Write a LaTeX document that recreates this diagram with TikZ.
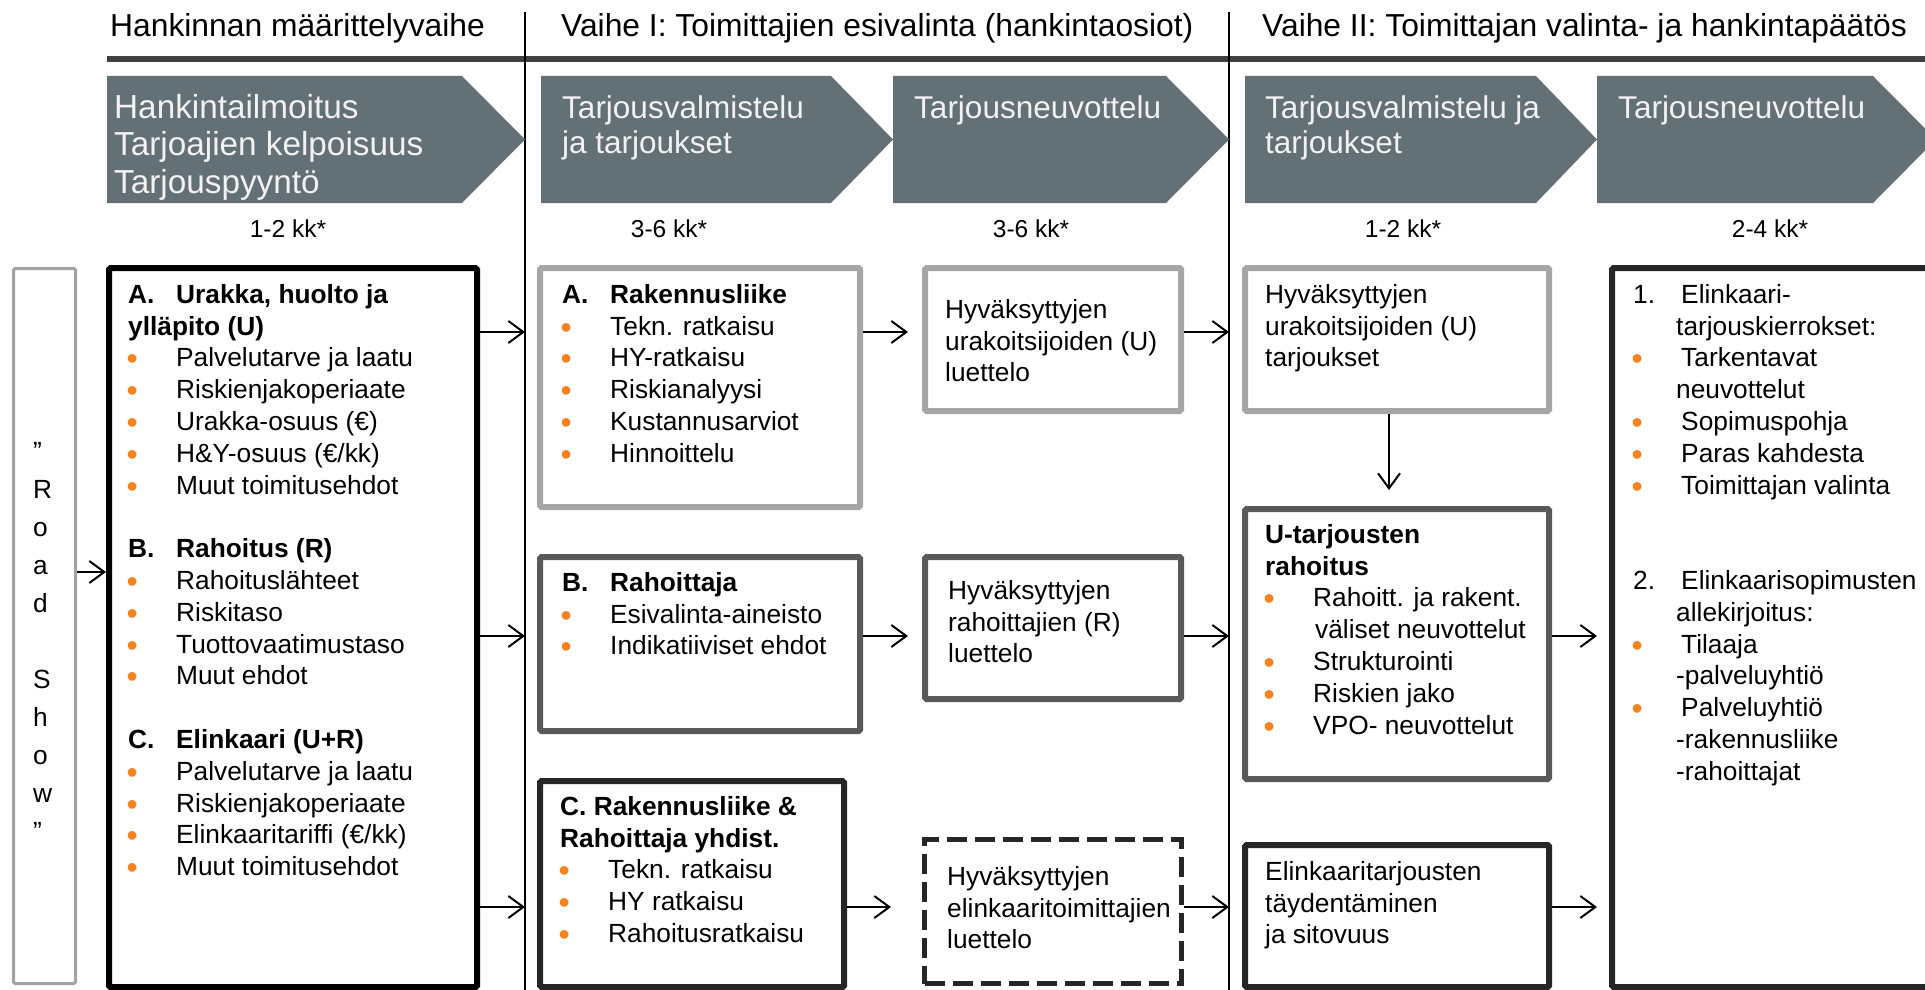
\documentclass[tikz,border=0pt]{standalone}
\usepackage{fontspec}
\setmainfont{Liberation Sans}
\usetikzlibrary{arrows.meta}
\definecolor{chev}{HTML}{637075}
\definecolor{chevtext}{HTML}{F2F2F2}
\definecolor{orng}{HTML}{F5821F}
\definecolor{lgray}{HTML}{A6A6A6}
\definecolor{dgray}{HTML}{595959}
\definecolor{nblack}{HTML}{262626}
\definecolor{rsgray}{HTML}{A3A3A3}
\definecolor{hline}{HTML}{404040}
\newcommand{\fsz}[2]{\fontsize{#1pt}{#2pt}\selectfont}
\newcommand{\bul}{\makebox[48pt][l]{\hspace{-1.5pt}\textcolor{orng}{\fontsize{32pt}{32pt}\selectfont\raisebox{-3pt}{•}}}}
\newcommand{\lbl}[1]{\makebox[48pt][l]{#1}}
\newcommand{\ft}{\rule{0pt}{24pt}}
\newcommand{\ct}{\rule{0pt}{26pt}}
\begin{document}
\begin{tikzpicture}[x=1pt,y=-1pt,
  hdr/.style={anchor=base west, inner sep=0pt, font=\fsz{31.8}{38}},
  chevtxt/.style={anchor=north west, inner sep=0pt, align=left, text=chevtext, font=\fsz{31.5}{35.5}},
  kklbl/.style={anchor=base, inner sep=0pt, font=\fsz{24.5}{29}},
  body/.style={anchor=north west, inner sep=0pt, align=left, font=\fsz{26.3}{31.8}},
  frame/.style={draw=#1, anchor=north west, inner sep=0pt, line width=6pt, rounded corners=1.5pt},
  arr/.style={line width=2pt, -{Straight Barb[length=15pt,width=22pt]}},
]
\useasboundingbox (0,0) rectangle (1925,990);
\fill[white] (0,0) rectangle (1925,990);
\begin{scope}
\clip (0,0) rectangle (1925,990);

% header texts
\node[hdr] (h1) at (110,37) {Hankinnan määrittelyvaihe};
\node[hdr] (h2) at (561,37) {Vaihe I: Toimittajien esivalinta (hankintaosiot)};
\node[hdr] (h3) at (1262,37) {Vaihe II: Toimittajan valinta- ja hankintapäätös};

% thick header line and dividers
\coordinate (hl1) at (107,59);
\coordinate (hl2) at (1925,59);
\draw[hline, line width=5.5pt] (hl1) -- (hl2);
\coordinate (d1t) at (525,12);
\coordinate (d1b) at (525,990);
\coordinate (d2t) at (1229,12);
\coordinate (d2b) at (1229,990);
\draw[line width=2pt] (d1t) -- (d1b);
\draw[line width=2pt] (d2t) -- (d2b);
\coordinate (d1) at (525,0);
\coordinate (d2) at (1229,0);

% chevrons
\fill[chev] (107,76) -- (462,76) -- (525,139.5) -- (462,203) -- (107,203) -- cycle;
\fill[chev] (541,76) -- (831,76) -- (893,139.5) -- (831,203) -- (541,203) -- cycle;
\fill[chev] (893,76) -- (1166,76) -- (1229,139.5) -- (1166,203) -- (893,203) -- cycle;
\fill[chev] (1245,76) -- (1536,76) -- (1597,139.5) -- (1536,203) -- (1245,203) -- cycle;
\fill[chev] (1597,76) -- (1873,76) -- (1936,139.5) -- (1873,203) -- (1597,203) -- cycle;

\node[chevtxt, font=\fsz{33.3}{37.4}] (c1txt) at (114,92) {\ct Hankintailmoitus\\Tarjoajien kelpoisuus\\Tarjouspyyntö};
\node[chevtxt] (c2txt) at (562,92) {\ct Tarjousvalmistelu\\ja tarjoukset};
\node[chevtxt] (c3txt) at (914,92) {\ct Tarjousneuvottelu};
\node[chevtxt] (c4txt) at (1265,92) {\ct Tarjousvalmistelu ja\\tarjoukset};
\node[chevtxt] (c5txt) at (1618,92) {\ct Tarjousneuvottelu};

% durations
\node[kklbl] (kk1) at (288,237) {1-2 kk*};
\node[kklbl] (kk2) at (669,237) {3-6 kk*};
\node[kklbl] (kk3) at (1031,237) {3-6 kk*};
\node[kklbl] (kk4) at (1403,237) {1-2 kk*};
\node[kklbl] (kk5) at (1770,237) {2-4 kk*};

% boxes
\node[frame=rsgray, line width=3pt, minimum width=62pt, minimum height=715pt] (roadshow) at (12,267) {};
\node[frame=black, minimum width=368pt, minimum height=719pt] (bigbox) at (106,265) {};
\node[frame=lgray, minimum width=320pt, minimum height=239pt] (rakA) at (537,265) {};
\node[frame=dgray, minimum width=320pt, minimum height=174pt] (rakB) at (537,554) {};
\node[frame=nblack, minimum width=304pt, minimum height=206pt] (rakC) at (537,778) {};
\node[frame=lgray, minimum width=256pt, minimum height=143pt] (luetU) at (922,265) {};
\node[frame=dgray, minimum width=256pt, minimum height=142pt] (luetR) at (922,554) {};
\node[frame=nblack, line width=5pt, dash pattern=on 20pt off 8pt, rounded corners=0pt, minimum width=257pt, minimum height=144pt] (luetE) at (922,837) {};
\node[frame=lgray, minimum width=304pt, minimum height=143pt] (tarjU) at (1242,265) {};
\node[frame=dgray, minimum width=304pt, minimum height=270pt] (rahU) at (1242,506) {};
\node[frame=nblack, minimum width=304pt, minimum height=142pt] (elinT) at (1242,842) {};
\node[frame=nblack, minimum width=345pt, minimum height=719pt] (final) at (1609,265) {};

% texts
\node[body, font=\fsz{26.3}{38}] (rstxt) at (33,436) {\ft ”\\R\\o\\a\\d\\[38pt]S\\h\\o\\w\\”};

\node[body] (bigtxt) at (128,279) {\ft\lbl{\textbf{A.}}\textbf{Urakka, huolto ja}\\
\textbf{ylläpito (U)}\\
\bul Palvelutarve ja laatu\\
\bul Riskienjakoperiaate\\
\bul Urakka-osuus (€)\\
\bul H\&Y-osuus (€/kk)\\
\bul Muut toimitusehdot\\[31.8pt]
\lbl{\textbf{B.}}\textbf{Rahoitus (R)}\\
\bul Rahoituslähteet\\
\bul Riskitaso\\
\bul Tuottovaatimustaso\\
\bul Muut ehdot\\[31.8pt]
\lbl{\textbf{C.}}\textbf{Elinkaari (U+R)}\\
\bul Palvelutarve ja laatu\\
\bul Riskienjakoperiaate\\
\bul Elinkaaritariffi (€/kk)\\
\bul Muut toimitusehdot};

\node[body] (rakAtxt) at (562,279) {\ft\lbl{\textbf{A.}}\textbf{Rakennusliike}\\
\bul Tekn. ratkaisu\\
\bul HY-ratkaisu\\
\bul Riskianalyysi\\
\bul Kustannusarviot\\
\bul Hinnoittelu};

\node[body] (rakBtxt) at (562,567) {\ft\lbl{\textbf{B.}}\textbf{Rahoittaja}\\
\bul Esivalinta-aineisto\\
\bul Indikatiiviset ehdot};

\node[body] (rakCtxt) at (560,791) {\ft\textbf{C. Rakennusliike \&}\\
\textbf{Rahoittaja yhdist.}\\
\bul Tekn. ratkaisu\\
\bul HY ratkaisu\\
\bul Rahoitusratkaisu};

\node[body] (luetUtxt) at (945,294) {\ft Hyväksyttyjen\\urakoitsijoiden (U)\\luettelo};
\node[body] (luetRtxt) at (948,575) {\ft Hyväksyttyjen\\rahoittajien (R)\\luettelo};
\node[body] (luetEtxt) at (947,861) {\ft Hyväksyttyjen\\elinkaaritoimittajien\\luettelo};

\node[body] (tarjUtxt) at (1265,279) {\ft Hyväksyttyjen\\urakoitsijoiden (U)\\tarjoukset};
\node[body] (rahUtxt) at (1265,519) {\ft\textbf{U-tarjousten}\\
\textbf{rahoitus}\\
\bul Rahoitt. ja rakent.\\
\hspace*{50pt}väliset neuvottelut\\
\bul Strukturointi\\
\bul Riskien jako\\
\bul VPO- neuvottelut};
\node[body] (elinTtxt) at (1265,856) {\ft Elinkaaritarjousten\\täydentäminen\\ja sitovuus};

\node[body] (finaltxt) at (1633,279) {\ft\lbl{1.}Elinkaari-\\
\hspace*{43pt}tarjouskierrokset:\\
\bul Tarkentavat\\
\hspace*{43pt}neuvottelut\\
\bul Sopimuspohja\\
\bul Paras kahdesta\\
\bul Toimittajan valinta\\[63.6pt]
\lbl{2.}Elinkaarisopimusten\\
\hspace*{43pt}allekirjoitus:\\
\bul Tilaaja\\
\hspace*{43pt}-palveluyhtiö\\
\bul Palveluyhtiö\\
\hspace*{43pt}-rakennusliike\\
\hspace*{43pt}-rahoittajat};

% connectors
\coordinate (yA) at (0,332);
\coordinate (yB) at (0,636);
\coordinate (yC) at (0,907);
\coordinate (yR) at (0,572);
\coordinate (xv) at (1389,0);

\draw[arr] (roadshow.east |- yR) -- (bigbox.west |- yR);
\draw[arr] (bigbox.east |- yA) -- (d1 |- yA);
\draw[arr] (bigbox.east |- yB) -- (d1 |- yB);
\draw[arr] (bigbox.east |- yC) -- (d1 |- yC);

\draw[arr, shorten >=14pt] (rakA.east |- yA) -- (luetU.west |- yA);
\draw[arr, shorten >=14pt] (rakB.east |- yB) -- (luetR.west |- yB);
\draw[arr, shorten >=31pt] (rakC.east |- yC) -- (luetE.west |- yC);

\draw[arr] (luetU.east |- yA) -- (d2 |- yA);
\draw[arr] (luetR.east |- yB) -- (d2 |- yB);
\draw[arr] (luetE.east |- yC) -- (d2 |- yC);

\draw[arr, shorten >=16pt] (tarjU.south -| xv) -- (rahU.north -| xv);
\draw[arr, shorten >=12pt] (rahU.east |- yB) -- (final.west |- yB);
\draw[arr, shorten >=12pt] (elinT.east |- yC) -- (final.west |- yC);
\end{scope}
\end{tikzpicture}
\end{document}
